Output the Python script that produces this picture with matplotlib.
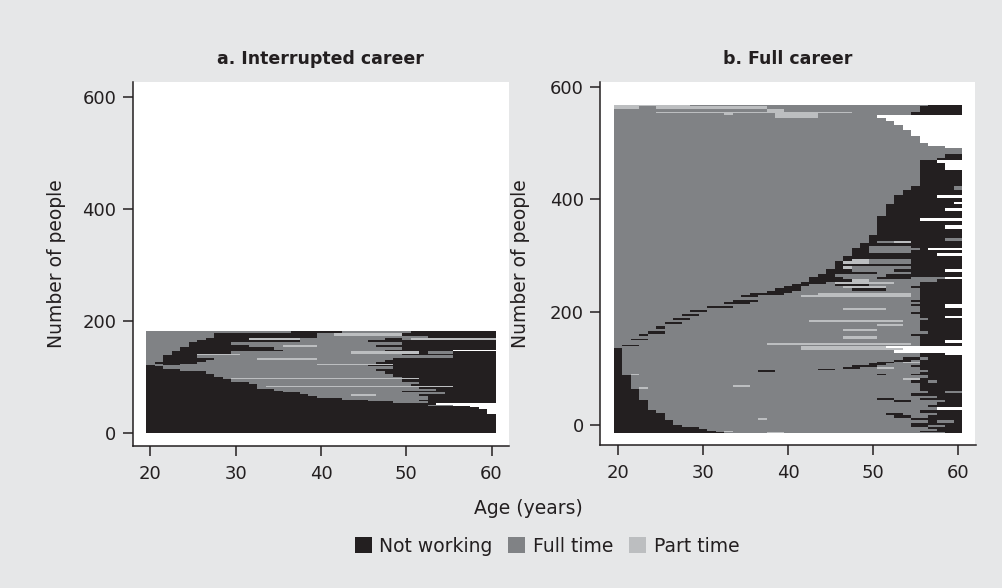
import matplotlib
matplotlib.use("Agg")
import matplotlib.pyplot as plt

# ---------------- data ----------------
ages = list(range(20, 61))                     # yearly cells 20..60
state_names = {"N": "Not working", "F": "Full time", "P": "Part time"}
state_colors = {"N": "#231f20", "F": "#808285", "P": "#bcbec0"}
# X = no observation (left blank)

# Panel a: groups of people (bottom -> top); spec = state + starting age
interrupted_counts = [34, 8, 3, 2, 3, 3, 3, 3, 3, 4, 3, 3, 3, 3, 3, 2, 4, 4, 4, 2, 2,
                      6, 5, 4, 4, 2, 2, 4, 4, 4, 4, 3, 4, 3, 4, 4, 5, 4, 4, 4, 4, 5]
interrupted_seqs = [
    "N20", "N20 X60", "N20 X59", "N20 X58", "N20 F53 X56", "N20 X54",
    "N20 F49 N53", "N20 F46 N52", "N20 F43 N53", "N20 F40 N53",
    "N20 F39 P44 F47 N52", "N20 F38 N55", "N20 F36 N50", "N20 F35 N54",
    "N20 F33 N52", "N20 F33 P34 N56", "N20 F33 N51", "N20 F32 N52",
    "N20 F30 N50", "N20 F29 P30 N52", "N20 F29 N50", "N20 F28 N49",
    "N20 F27 N48", "N20 F24 N47", "N20 F22 N49", "N20 F21 N46",
    "F20 N22 F24 P40 N49", "F20 N21 F26 N47", "F20 N22 F27 N48",
    "F20 N22 F28 P33 F40 N49", "F20 N22 F26 N56", "F20 N23 P26 F31 N50",
    "F20 N23 F30 P44 N52 F53 N56", "F20 N24 F36 N48 X56", "F20 N24 F35 N50",
    "F20 N25 F32 P36 F40 N47", "F20 N25 F30 N50", "F20 N26 F38 N46",
    "F20 N27 P32 F38 N48 F50 P51", "F20 N28 F40 N53", "F20 N28 F40 P42 N50",
    "F20 N37 F43 N51",
]

# Panel b
full_first_row = -14
full_counts = [2, 2, 2, 4, 4, 4, 5, 4, 4, 4, 6, 4, 5, 4, 4, 4, 4, 4, 4, 3,
               4, 4, 4, 4, 4, 5, 3, 3, 3, 3, 3, 3, 3, 3, 4, 4, 4, 4, 5, 4,
               3, 2, 4, 4, 3, 5, 4, 4, 5, 4, 4, 3, 4, 3, 4, 3, 4, 3, 4, 4,
               4, 3, 3, 5, 4, 4, 4, 4, 4, 4, 4, 4, 5, 5, 4, 5, 5, 4, 5, 4,
               5, 5, 5, 4, 4, 4, 4, 5, 6, 11, 6, 8, 5, 3, 10, 5, 6, 4, 8, 5,
               9, 6, 29, 12, 5, 5, 6, 11, 4, 5, 13, 10, 9, 6, 6, 5, 4, 2, 6, 4, 3]
full_seqs = [
    "N20 F33 P38 F40 N59", "N20 F32 P33 F34 N56", "N20 F31 N58", "N20 F30 N57",
    "N20 F28 N55 F57 N59", "N20 F27 N55", "N20 F27 N57 F58 N60", "N20 F26 P37 F38 N55",
    "N20 F26 N53 F55 N57", "N20 F26 N52 F54 N58", "N20 F25 N56", "N20 F24 X58",
    "N20 F24 N57", "N20 F24 N58", "N20 F24 N53 F55 N59", "N20 F23 N51 F53 N56",
    "N20 F23 N58", "N20 F23 N55", "N20 F23 N57 F59", "N20 F23 N56",
    "N20 F22 P23 F24 N56", "N20 F22 P34 F36 N56", "N20 F22 N56", "N20 F22 N55 F57 N58",
    "N20 F22 P54 N56", "N20 F22 N57", "N20 F21 P22 F23 N51 F52 N55", "N20 F21 N56",
    "N20 F21 N37 F39 N57", "N20 F21 N44 F46 N56", "N20 F21 N47 F49 P51 F53 N56",
    "N20 F21 N48 F51 N55", "N20 F21 N50 F52 N56", "N20 F21 N51 F53 P54 N56",
    "N20 F21 N53 F55 N56", "N20 F21 N54 F56 N57", "N20 F21 N56", "N20 F21 N56 X59",
    "N20 F21 X53", "N20 F21 P42 X54",
    "F20 P42 X52", "F20 N21 F23 N56", "F20 P38 F55 N56", "F20 N56 X59",
    "F20 N22 F24 N56", "F20 P47 F51 N56", "F20 N23 F24 N55", "F20 N24 F26 N57",
    "F20 P47 F51 N56", "F20 N25 F26 N56", "F20 P51 F54 N56", "F20 N26 F28 N56",
    "F20 P43 F54 N56", "F20 N27 F29 N57", "F20 N56 X59", "F20 N28 F30 N56",
    "F20 N55", "F20 N29 F31 N56", "F20 P47 F52 N56", "F20 N31 F34 N56 X59",
    "F20 N55 X59", "F20 N33 F36 N56", "F20 N34 F37 N55", "F20 N56",
    "F20 N35 F37 P42 F55 N56", "F20 N36 F40 P44 F55 N56", "F20 N38 F41 N56",
    "F20 N39 F42 N48 F52 N56", "F20 N40 F42 P47 F52 N55",
    "F20 N41 F43 N46 F50 N56", "F20 N42 F45 P46 F53 N56", "F20 N43 P48 F50 N58",
    "F20 N43 F47 N51 F55 X59", "F20 N44 F46 N52", "F20 N45 F51 N55",
    "F20 N45 F48 N53 X59", "F20 N46 P47 F48 N55", "F20 N46", "F20 N46 P47 F50 N55",
    "F20 N47 P48 F50 N55", "F20 N47", "F20 N48 X58", "F20 N48 F50 N55",
    "F20 N48 F50 N56 X57", "F20 N49 F50 N55", "F20 N49", "F20 N50 F51 P53 N55",
    "F20 N50 F59", "F20 N50", "F20 N51", "F20 N51 X59", "F20 N51", "F20 N51 X56",
    "F20 N51", "F20 N52", "F20 N52 X59", "F20 N52", "F20 N53 X60", "F20 N53",
    "F20 N53 X58", "F20 N54", "F20 N55 F60", "F20 N56", "F20 N56 X59",
    "F20 N56 X58", "F20 N58", "F20 N59", "F20",
    "F20 X59", "F20 X57", "F20 X56", "F20 X55", "F20 X54", "F20 X53", "F20 X52",
    "F20 P39 F44 X51", "F20 P33 F34 P39 F44 N55", "F20 P25 F48 N55",
    "F20 P38 F40 F50 N56", "P20 F23 P25 F38 N56", "P20 F29 N57",
]

# ---------------- figure ----------------
W, H = 1003, 588
INK = "#231f20"
plt.rcParams["font.family"] = ["DejaVu Sans"]
plt.rcParams["text.color"] = INK

fig = plt.figure(figsize=(W / 100, H / 100), dpi=100, facecolor="#e6e7e8")


def px_rect(x0, x1, y0, y1):
    return [x0 / W, 1 - y1 / H, (x1 - x0) / W, (y1 - y0) / H]


ax_a = fig.add_axes(px_rect(133, 509, 82, 446))
ax_b = fig.add_axes(px_rect(600.5, 975.5, 82, 445))


def draw(ax, counts, seqs, first_row):
    bars = {s: ([], [], [], []) for s in state_colors}
    row = first_row
    for n, spec in zip(counts, seqs):
        tokens = spec.split()
        starts = [int(t[1:]) for t in tokens]
        ends = starts[1:] + [ages[-1] + 1]
        for tok, s, e in zip(tokens, starts, ends):
            st = tok[0]
            if st in bars:
                b = bars[st]
                b[0].append(row)
                b[1].append(n)
                b[2].append(s - 0.5)
                b[3].append(e - s)
        row += n
    for st, (ys, hs, ls, ws) in bars.items():
        ax.barh(ys, ws, height=hs, left=ls, align="edge", color=state_colors[st],
                linewidth=0, antialiased=False, label=state_names[st])


draw(ax_a, interrupted_counts, interrupted_seqs, 0)
draw(ax_b, full_counts, full_seqs, full_first_row)

for ax in (ax_a, ax_b):
    ax.set_facecolor("white")
    ax.set_xlim(17.95, 62.05)
    ax.set_xticks([20, 30, 40, 50, 60])
    ax.set_yticks([0, 200, 400, 600])
    for side in ("top", "right"):
        ax.spines[side].set_visible(False)
    for side in ("left", "bottom"):
        ax.spines[side].set_linewidth(1.1)
        ax.spines[side].set_color(INK)
    ax.tick_params(direction="out", length=7, width=1.1, colors=INK, labelsize=13)
    ax.tick_params(axis="x", pad=6.5)
    ax.tick_params(axis="y", pad=5)

ax_a.set_ylim(-24, 626)
ax_b.set_ylim(-35.5, 608)

fig.text(320 / W, 1 - 59 / H, "a. Interrupted career", ha="center", va="center",
         fontsize=12.5, fontweight="bold")
fig.text(788 / W, 1 - 59 / H, "b. Full career", ha="center", va="center",
         fontsize=12.5, fontweight="bold")
fig.text(57 / W, 1 - 264 / H, "Number of people", rotation=90, ha="center",
         va="center", fontsize=13.5)
fig.text(521 / W, 1 - 264 / H, "Number of people", rotation=90, ha="center",
         va="center", fontsize=13.5)
fig.text(528 / W, 1 - 508 / H, "Age (years)", ha="center", va="center", fontsize=13.5)

handles, labels = ax_a.get_legend_handles_labels()
fig.legend(handles, labels, loc="center", bbox_to_anchor=(547 / W, 1 - 546 / H),
           ncol=3, frameon=False, fontsize=13.5, handlelength=0.9,
           handleheight=0.9, handletextpad=0.4, columnspacing=0.85)

fig.savefig("out.png", dpi=100, facecolor=fig.get_facecolor())
